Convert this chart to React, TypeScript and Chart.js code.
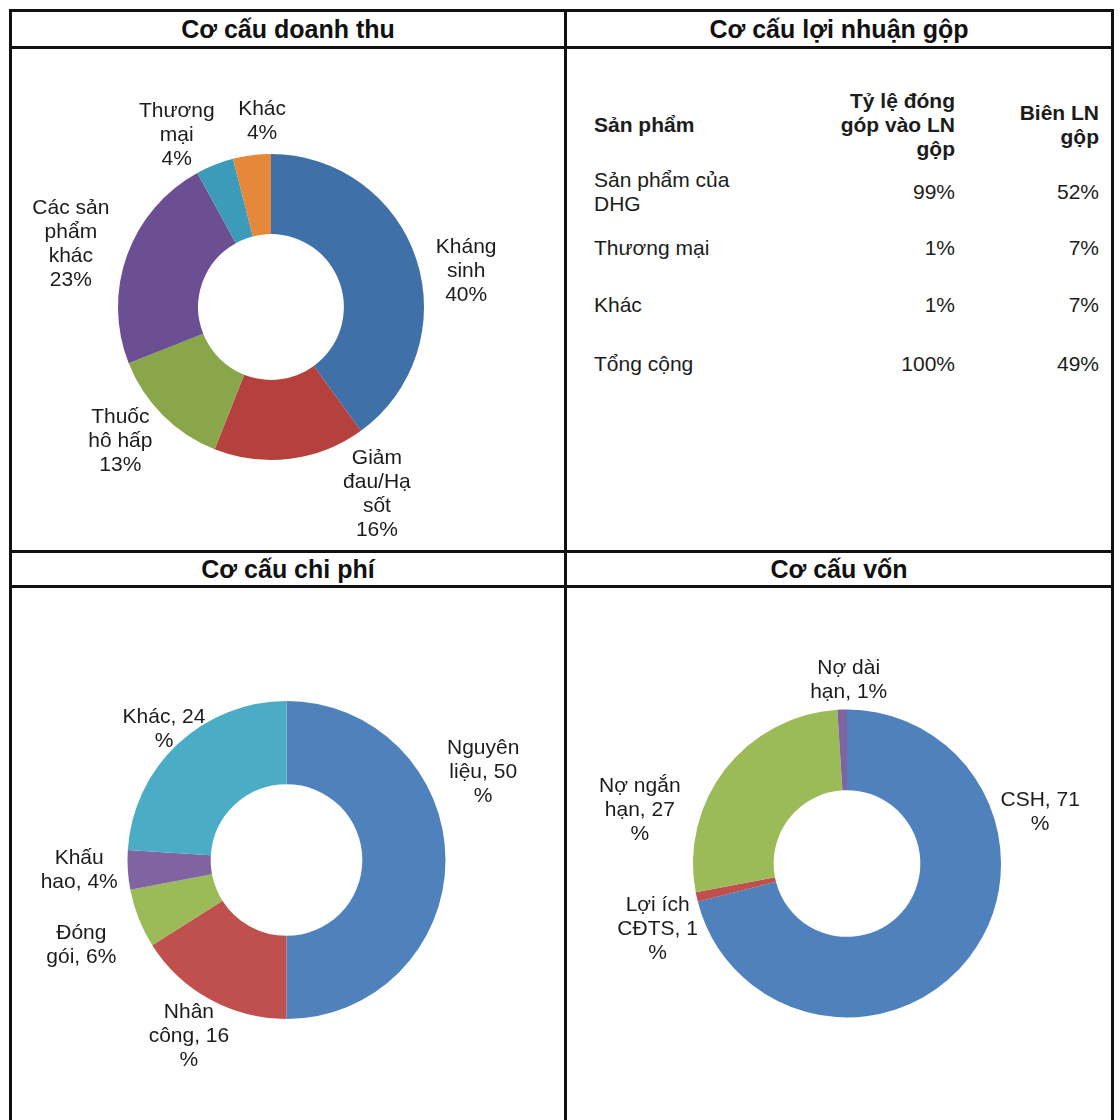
import React, { useEffect, useRef } from "react";
import { Chart, registerables } from "chart.js";

Chart.register(...registerables);

// ---------- DATA ----------
const revenueCategories = ["Kháng sinh", "Giảm đau/Hạ sốt", "Thuốc hô hấp", "Các sản phẩm khác", "Thương mại", "Khác"];
const revenueValues = [40, 16, 13, 23, 4, 4];
const revenueLabelLines = [["Kháng", "sinh", "{v}%"], ["Giảm", "đau/Hạ", "sốt", "{v}%"], ["Thuốc", "hô hấp", "{v}%"], ["Các sản", "phẩm", "khác", "{v}%"], ["Thương", "mại", "{v}%"], ["Khác", "{v}%"]];

const costCategories = ["Nguyên liệu", "Nhân công", "Đóng gói", "Khấu hao", "Khác"];
const costValues = [50, 16, 6, 4, 24];
const costLabelLines = [["Nguyên", "liệu, {v}", "%"], ["Nhân", "công, {v}", "%"], ["Đóng", "gói, {v}%"], ["Khấu", "hao, {v}%"], ["Khác, {v}", "%"]];

const capitalCategories = ["CSH", "Lợi ích CĐTS", "Nợ ngắn hạn", "Nợ dài hạn"];
const capitalValues = [71, 1, 27, 1];
const capitalLabelLines = [["CSH, {v}", "%"], ["Lợi ích", "CĐTS, {v}", "%"], ["Nợ ngắn", "hạn, {v}", "%"], ["Nợ dài", "hạn, {v}%"]];

const profitProducts = ["Sản phẩm của\nDHG", "Thương mại", "Khác", "Tổng cộng"];
const profitContribution = [99, 1, 1, 100];
const profitMargin = [52, 7, 7, 49];
const profitHeaders = ["Sản phẩm", "Tỷ lệ đóng\ngóp vào LN\ngộp", "Biên LN\ngộp"];

const panelTitles = ["Cơ cấu doanh thu", "Cơ cấu lợi nhuận gộp", "Cơ cấu chi phí", "Cơ cấu vốn"];

// ---------- STYLE / LAYOUT ----------
const FONT = '"Liberation Sans", Arial, sans-serif';
const revenueColors = ["#4070A8", "#B5413F", "#89A64B", "#6C4E92", "#3D9BBA", "#E5883A"];
const officeColors = ["#4F81BD", "#C0504D", "#9BBB59", "#8064A2", "#4BACC6"];

const outerLabelsPlugin = {
  id: "outerLabels",
  afterDatasetsDraw(chart: any, _args: any, opts: any) {
    const { ctx } = chart;
    const meta = chart.getDatasetMeta(0);
    const values = chart.data.datasets[0].data;
    ctx.save();
    ctx.font = `21px ${FONT}`;
    ctx.fillStyle = "#1c1c1c";
    ctx.textAlign = "center";
    ctx.textBaseline = "middle";
    meta.data.forEach((arc: any, i: number) => {
      const p = arc.getProps(["x", "y", "startAngle", "endAngle", "outerRadius"], true);
      const mid = (p.startAngle + p.endAngle) / 2;
      const d = p.outerRadius * opts.distance;
      const nudge = opts.nudge[i] || [0, 0];
      const cx = p.x + Math.cos(mid) * d + nudge[0];
      const cy = p.y + Math.sin(mid) * d + nudge[1];
      const lines: string[] = opts.lines[i].map((s: string) => s.replace("{v}", String(values[i])));
      const lh = 24;
      lines.forEach((ln, k) => {
        ctx.fillText(ln, cx, cy + (k - (lines.length - 1) / 2) * lh);
      });
    });
    ctx.restore();
  },
};

type DonutProps = {
  left: number; top: number; width: number; height: number;
  cx: number; cy: number; radius: number;
  labels: string[]; values: number[]; colors: string[];
  lines: string[][]; nudge: number[][];
};

function Donut(props: DonutProps) {
  const ref = useRef<HTMLCanvasElement>(null);
  useEffect(() => {
    if (!ref.current) return;
    const box = props.radius + 6;
    const chart = new Chart(ref.current, {
      type: "doughnut",
      data: {
        labels: props.labels,
        datasets: [{
          data: props.values,
          backgroundColor: props.colors,
          borderWidth: 0,
          hoverOffset: 0,
          offset: 0,
          spacing: 0,
        }],
      },
      options: {
        responsive: false,
        animation: false,
        events: [],
        radius: props.radius,
        cutout: props.radius * 0.495,
        layout: {
          padding: {
            left: props.cx - box,
            right: props.width - props.cx - box,
            top: props.cy - box,
            bottom: props.height - props.cy - box,
          },
        },
        plugins: {
          legend: { display: false },
          tooltip: { enabled: false },
          outerLabels: { distance: 1.3, lines: props.lines, nudge: props.nudge },
        } as any,
      } as any,
      plugins: [outerLabelsPlugin as any],
    });
    return () => chart.destroy();
  }, []);
  return (
    <canvas
      ref={ref}
      width={props.width}
      height={props.height}
      style={{ position: "absolute", left: props.left, top: props.top, width: props.width, height: props.height }}
    />
  );
}

function Line({ x, y, w, h }: { x: number; y: number; w: number; h: number }) {
  return <div style={{ position: "absolute", left: x, top: y, width: w, height: h, background: "#111" }} />;
}

function Title({ text, cx, cy }: { text: string; cx: number; cy: number }) {
  return (
    <div style={{
      position: "absolute", left: cx - 250, top: cy, width: 500, transform: "translateY(-50%)",
      textAlign: "center", font: `bold 25px ${FONT}`, color: "#111", lineHeight: "30px",
    }}>{text}</div>
  );
}

function Cell({ text, x, cy, align, bold, width }: { text: string; x: number; cy: number; align: "left" | "right"; bold?: boolean; width: number }) {
  const style: any = {
    position: "absolute", top: cy, transform: "translateY(-50%)", width,
    font: `${bold ? "bold " : ""}21px ${FONT}`, lineHeight: "24px", color: "#1c1c1c",
    whiteSpace: "pre-line", textAlign: align,
  };
  if (align === "left") style.left = x; else style.left = x - width;
  return <div style={style}>{text}</div>;
}

export default function App() {
  const rowY = [192, 248, 305, 364];
  return (
    <div style={{ position: "absolute", left: 0, top: 0, width: 1120, height: 1120, background: "#fff", overflow: "hidden" }}>
      {/* grid lines */}
      <Line x={9} y={9} w={1105} h={3} />
      <Line x={9} y={46} w={1105} h={3} />
      <Line x={9} y={550} w={1105} h={3} />
      <Line x={9} y={585} w={1105} h={3} />
      <Line x={9} y={9} w={3} h={1111} />
      <Line x={564} y={9} w={3} h={1111} />
      <Line x={1111} y={9} w={3} h={1111} />

      <Title text={panelTitles[0]} cx={288} cy={29} />
      <Title text={panelTitles[1]} cx={839} cy={29} />
      <Title text={panelTitles[2]} cx={288} cy={569} />
      <Title text={panelTitles[3]} cx={839} cy={569} />

      {/* Revenue donut */}
      <Donut left={12} top={50} width={552} height={500} cx={259} cy={257} radius={153}
        labels={revenueCategories} values={revenueValues} colors={revenueColors}
        lines={revenueLabelLines}
        nudge={[[6, 26], [81, -10], [-10, -6], [-13, 5], [-21, 13], [16, 12]]} />

      {/* Profit table */}
      <Cell text={profitHeaders[0]} x={594} cy={125} align="left" bold width={200} />
      <Cell text={profitHeaders[1]} x={955} cy={125} align="right" bold width={200} />
      <Cell text={profitHeaders[2]} x={1099} cy={125} align="right" bold width={120} />
      {profitProducts.map((p, i) => (
        <React.Fragment key={i}>
          <Cell text={p} x={594} cy={rowY[i]} align="left" width={200} />
          <Cell text={`${profitContribution[i]}%`} x={955} cy={rowY[i]} align="right" width={120} />
          <Cell text={`${profitMargin[i]}%`} x={1099} cy={rowY[i]} align="right" width={120} />
        </React.Fragment>
      ))}

      {/* Cost donut */}
      <Donut left={12} top={590} width={552} height={530} cx={274.5} cy={270} radius={159}
        labels={costCategories} values={costValues} colors={officeColors}
        lines={costLabelLines}
        nudge={[[-10, -88], [2, -5], [-13, 9], [-1, -3], [19, 20]]} />

      {/* Capital donut */}
      <Donut left={567} top={590} width={544} height={530} cx={280} cy={273.5} radius={154}
        labels={capitalCategories} values={capitalValues} colors={officeColors}
        lines={capitalLabelLines}
        nudge={[[35, -174], [6, 22], [-49, 69], [8, 17]]} />
    </div>
  );
}
